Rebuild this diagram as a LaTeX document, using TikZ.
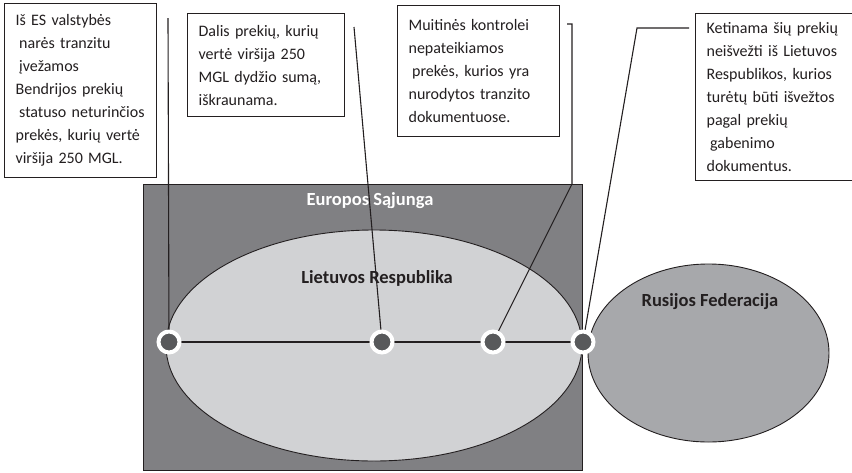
\documentclass[tikz,border=0pt]{standalone}
\usepackage{fontspec}
\setmainfont{Carlito}
\definecolor{esgray}{RGB}{128,128,131}
\definecolor{ltgray}{RGB}{209,210,212}
\definecolor{rugray}{RGB}{167,168,171}
\definecolor{dotgray}{RGB}{88,89,91}
\definecolor{inkgray}{RGB}{35,31,32}
\usetikzlibrary{positioning, shapes.geometric}
\newcommand{\atitr}{\hspace*{3.6pt}}
\tikzset{
region/.style={draw=inkgray, line width=0.9pt, inner sep=0pt}, % the grey areas
boxtext/.style={
  draw=inkgray,
  line width=1.2pt,
  fill=white,
  anchor=north west,
  align=left,
  inner xsep=11pt,
  inner ysep=0pt,
  text=inkgray,
  font=\fontsize{16}{23}\selectfont
  },
title/.style={font=\fontsize{18.5}{22}\selectfont\bfseries}, % names of the areas
punct/.style={circle, draw=white, line width=4pt, fill=dotgray, minimum size=21pt, inner sep=0pt}, % points on the route
leader/.style={draw=inkgray, line width=1.1pt},
route/.style={draw=inkgray, line width=1.5pt}
}

\begin{document}
\begin{tikzpicture}[x=1pt, y=-1pt]
\useasboundingbox (0,0) rectangle (852,472);

\node[region, fill=esgray, minimum width=439pt, minimum height=286pt] (es) at (362.5,327) {};
\node[region, ellipse, fill=ltgray, minimum width=416pt, minimum height=231pt] (lr) at (374,345.5) {};
\node[region, ellipse, fill=rugray, minimum width=241pt, minimum height=178pt] (rf) at (708.5,353) {};

\node[title, text=white] (esl) at (370,201) {Europos Sąjunga};
\node[title, text=inkgray] (lrl) at (377,278) {Lietuvos Respublika};
\node[title, text=inkgray] (rfl) at (710,302) {Rusijos Federacija};

\coordinate (p1) at (169,342);
\coordinate (p2) at (382,342);
\coordinate (p3) at (493,342);
\coordinate (p4) at (583,342);
\draw[route] (p1) -- (p4);
\foreach \i in {1,...,4}
  \node[punct] (d\i) at (p\i) {};

\node[boxtext, text width=130pt, minimum height=174pt] (b1) at (4,3)
  {Iš ES valstybės\\ \atitr narės tranzitu\\ \atitr įvežamos\\Bendrijos prekių\\ \atitr statuso neturinčios\\prekės, kurių vertė\\viršija 250 MGL.};
\node[boxtext, text width=135pt, minimum height=103pt] (b2) at (187,13)
  {Dalis prekių, kurių\\vertė viršija 250\\MGL dydžio sumą,\\iškraunama.};
\node[boxtext, text width=140pt, minimum height=131pt] (b3) at (397,5)
  {Muitinės kontrolei\\nepateikiamos\\ \atitr prekės, kurios yra\\nurodytos tranzito\\dokumentuose.};
\node[boxtext, text width=150pt, minimum height=167pt] (b4) at (695,13)
  {Ketinama šių prekių\\neišvežti iš Lietuvos\\Respublikos, kurios\\turėtų būti išvežtos\\pagal prekių\\ \atitr gabenimo\\dokumentus.};

\coordinate (c1) at (168,18);
\coordinate (c2) at (354,27);
\coordinate (c3) at (567,24);
\coordinate (k3) at (572,184);
\coordinate (c4) at (689,28);
\coordinate (k4) at (637,28);
\draw[leader] (c1) -- (d1);
\draw[leader] (c2) -- (d2);
\draw[leader] (c3) -| (k3) -- (d3);
\draw[leader] (c4) -- (k4) -- (d4);
\end{tikzpicture}
\end{document}
